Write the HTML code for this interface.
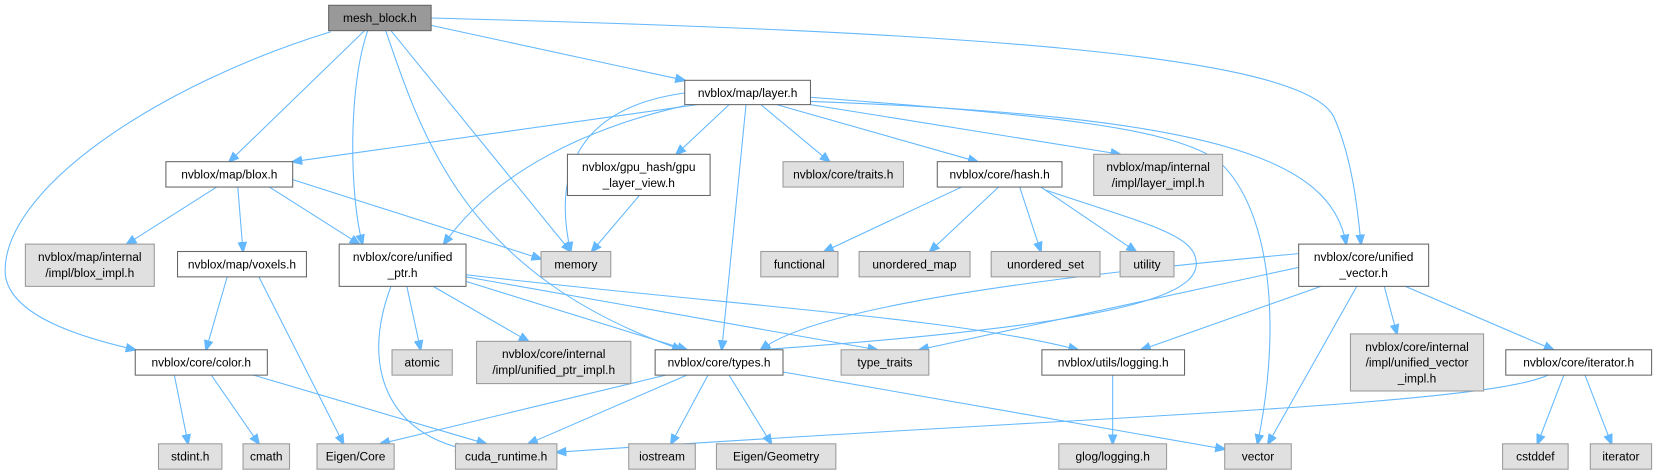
<!DOCTYPE html>
<html><head><meta charset="utf-8"><style>
html,body{margin:0;padding:0;background:#fff;}
svg{display:block}
text{font-family:"Liberation Sans",sans-serif;font-size:11.3px;fill:#000;text-anchor:middle}
.w{fill:#fff;stroke:#666;stroke-width:1}
.g{fill:#e0e0e0;stroke:#999;stroke-width:1}
.d{fill:#999;stroke:#666;stroke-width:1}
path{fill:none;stroke:#63b8ff;stroke-width:1;marker-end:url(#a)}
</style></head><body>
<svg width="1659" height="475" viewBox="0 0 1570 449.5" xmlns="http://www.w3.org/2000/svg">
<defs><marker id="a" viewBox="0 0 10 10" refX="9" refY="5" markerWidth="10" markerHeight="10" markerUnits="userSpaceOnUse" orient="auto"><path d="M0,1 L10,5 L0,9 Z" style="fill:#63b8ff;stroke:#63b8ff;marker-end:none"/></marker></defs>
<!-- edges -->
<path d="M408,24 L648,76"/>
<path d="M408,17 C900,30 1230,50 1262,110 C1280,150 1285,200 1288,231"/>
<path d="M345,29 L217,153"/>
<path d="M313,30 C150,80 0,180 5,260 C10,300 80,320 128,331"/>
<path d="M348,29 C330,80 330,180 343,231"/>
<path d="M365,29 C400,130 440,260 645,331"/>
<path d="M370,29 L540,238"/>
<path d="M660,99 L277,153"/>
<path d="M690,99 L640,146"/>
<path d="M648,88 C560,100 520,150 540,238"/>
<path d="M648,100 C560,120 470,160 420,231"/>
<path d="M706,99 L683,331"/>
<path d="M720,99 L785,153"/>
<path d="M735,99 L925,153"/>
<path d="M767,99 L1060,146"/>
<path d="M767,96 C1150,110 1260,150 1274,231"/>
<path d="M767,92 C1000,110 1100,120 1150,150 C1200,190 1215,300 1190,420"/>
<path d="M205,177 L120,231"/>
<path d="M225,177 L230,238"/>
<path d="M255,177 L340,231"/>
<path d="M277,170 L512,245"/>
<path d="M605,185 L560,238"/>
<path d="M910,177 L780,238"/>
<path d="M945,177 L880,238"/>
<path d="M965,177 L985,238"/>
<path d="M985,177 L1075,238"/>
<path d="M990,180 C1080,210 1120,220 1130,240 C1145,275 1090,305 720,331"/>
<path d="M215,262 L195,331"/>
<path d="M245,262 L325,420"/>
<path d="M385,271 L398,331"/>
<path d="M410,271 L500,323"/>
<path d="M440,266 L650,331"/>
<path d="M441,262 L830,331"/>
<path d="M441,260 C700,290 900,300 1020,331"/>
<path d="M370,271 C340,350 370,410 440,425"/>
<path d="M1229,240 C900,270 760,300 720,331"/>
<path d="M1229,253 L870,331"/>
<path d="M1250,271 L1080,331"/>
<path d="M1310,271 L1322,316"/>
<path d="M1330,271 L1470,331"/>
<path d="M1284,271 L1200,420"/>
<path d="M165,355 L178,420"/>
<path d="M200,355 L245,420"/>
<path d="M240,355 L460,420"/>
<path d="M630,355 L360,420"/>
<path d="M650,355 L500,420"/>
<path d="M670,355 L635,420"/>
<path d="M690,355 L730,420"/>
<path d="M741,352 L1159,425"/>
<path d="M1053,355 L1053,420"/>
<path d="M1480,355 L1455,420"/>
<path d="M1500,355 L1525,420"/>
<path d="M1465,355 C1400,385 1000,395 527,428"/>
<!-- nodes -->
<rect class="d" x="311" y="5" width="97" height="24"/><text x="359.5" y="21">mesh_block.h</text>
<rect class="w" x="648" y="76" width="119" height="23"/><text x="707.5" y="92">nvblox/map/layer.h</text>
<rect class="w" x="157" y="153" width="120" height="24"/><text x="217" y="169">nvblox/map/blox.h</text>
<rect class="w" x="537" y="146" width="135" height="39"/><text x="604.5" y="162">nvblox/gpu_hash/gpu</text><text x="604.5" y="177">_layer_view.h</text>
<rect class="g" x="741" y="153" width="114" height="24"/><text x="798" y="169">nvblox/core/traits.h</text>
<rect class="w" x="887" y="153" width="118" height="24"/><text x="946" y="169">nvblox/core/hash.h</text>
<rect class="g" x="1035" y="146" width="122" height="39"/><text x="1096" y="162">nvblox/map/internal</text><text x="1096" y="177">/impl/layer_impl.h</text>
<rect class="g" x="24" y="231" width="122" height="40"/><text x="85" y="247">nvblox/map/internal</text><text x="85" y="262">/impl/blox_impl.h</text>
<rect class="w" x="168" y="238" width="122" height="24"/><text x="229" y="254">nvblox/map/voxels.h</text>
<rect class="w" x="321" y="231" width="120" height="40"/><text x="381" y="247">nvblox/core/unified</text><text x="381" y="262">_ptr.h</text>
<rect class="g" x="512" y="238" width="66" height="24"/><text x="545" y="254">memory</text>
<rect class="g" x="720" y="238" width="73" height="24"/><text x="756.5" y="254">functional</text>
<rect class="g" x="813" y="238" width="105" height="24"/><text x="865.5" y="254">unordered_map</text>
<rect class="g" x="938" y="238" width="103" height="24"/><text x="989.5" y="254">unordered_set</text>
<rect class="g" x="1060" y="238" width="51" height="24"/><text x="1085.5" y="254">utility</text>
<rect class="w" x="1229" y="231" width="123" height="40"/><text x="1290.5" y="247">nvblox/core/unified</text><text x="1290.5" y="262">_vector.h</text>
<rect class="w" x="128" y="331" width="125" height="24"/><text x="190.5" y="347">nvblox/core/color.h</text>
<rect class="g" x="371" y="331" width="57" height="24"/><text x="399.5" y="347">atomic</text>
<rect class="g" x="451" y="323" width="146" height="40"/><text x="524" y="339">nvblox/core/internal</text><text x="524" y="354">/impl/unified_ptr_impl.h</text>
<rect class="w" x="620" y="331" width="121" height="24"/><text x="680.5" y="347">nvblox/core/types.h</text>
<rect class="g" x="796" y="331" width="83" height="24"/><text x="837.5" y="347">type_traits</text>
<rect class="w" x="986" y="331" width="135" height="24"/><text x="1053.5" y="347">nvblox/utils/logging.h</text>
<rect class="g" x="1278" y="316" width="126" height="54"/><text x="1341" y="332">nvblox/core/internal</text><text x="1341" y="347">/impl/unified_vector</text><text x="1341" y="362">_impl.h</text>
<rect class="w" x="1425" y="331" width="138" height="24"/><text x="1494" y="347">nvblox/core/iterator.h</text>
<rect class="g" x="150" y="420" width="60" height="24"/><text x="180" y="436">stdint.h</text>
<rect class="g" x="230" y="420" width="44" height="24"/><text x="252" y="436">cmath</text>
<rect class="g" x="300" y="420" width="73" height="24"/><text x="336.5" y="436">Eigen/Core</text>
<rect class="g" x="431" y="420" width="96" height="24"/><text x="479" y="436">cuda_runtime.h</text>
<rect class="g" x="595" y="420" width="63" height="24"/><text x="626.5" y="436">iostream</text>
<rect class="g" x="678" y="420" width="113" height="24"/><text x="734.5" y="436">Eigen/Geometry</text>
<rect class="g" x="1159" y="420" width="63" height="24"/><text x="1190.5" y="436">vector</text>
<rect class="g" x="1002" y="420" width="102" height="24"/><text x="1053" y="436">glog/logging.h</text>
<rect class="g" x="1422" y="420" width="62" height="24"/><text x="1453" y="436">cstddef</text>
<rect class="g" x="1505" y="420" width="58" height="24"/><text x="1534" y="436">iterator</text>
</svg>
</body></html>
